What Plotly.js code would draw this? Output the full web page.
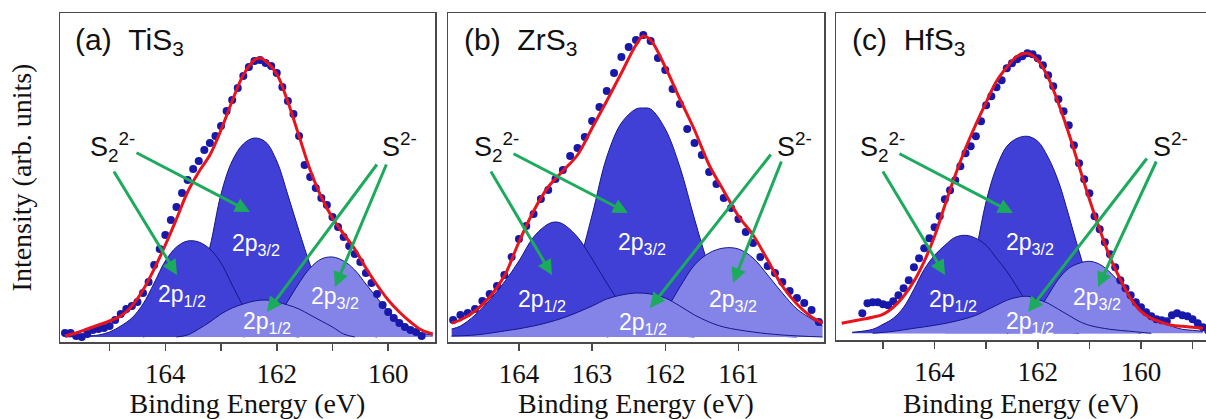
<!DOCTYPE html>
<html>
<head>
<meta charset="utf-8">
<script src="https://cdn.plot.ly/plotly-3.0.1.min.js"></script>
<style>html,body{margin:0;padding:0;background:#fff;}#chart{width:1206px;height:419px;}</style>
</head>
<body>
<div id="chart"></div>
<script>
// ---------- DATA (binding energy in eV, intensity in arb. units) ----------
// Panel (a) TiS3
const tiFitE = [165.8,165.6,165.4,165.2,165.0,164.8,164.6,164.4,164.2,164.0,163.8,163.6,163.4,163.2,163.0,162.8,162.6,162.4,162.3,162.2,162.0,161.8,161.6,161.4,161.2,161.0,160.8,160.6,160.4,160.2,160.0,159.8,159.6,159.4,159.2];
const tiFit  = [1,4,8,12,16,21,31,47,68,92,118,145,165,182,207,236,262,277,279,276,263,235,201,167,140,119,103,88,69,52,37,25,15,7,3];
const tiDotE = [165.8,165.7,165.6,165.5,165.4,165.3,165.2,165.1,165.0,164.9,164.8,164.7,164.6,164.5,164.4,164.3,164.2,164.1,164.0,163.9,163.8,163.7,163.6,163.5,163.4,163.3,163.2,163.1,163.0,162.9,162.8,162.7,162.6,162.5,162.4,162.3,162.2,162.1,162.0,161.9,161.8,161.7,161.6,161.5,161.4,161.3,161.2,161.1,161.0,160.9,160.8,160.7,160.6,160.5,160.4,160.3,160.2,160.1,160.0,159.9,159.8,159.7,159.6,159.5,159.4];
const tiDots = [4,4,1,0,3,7,8,9,11,17,23,28,31,35,44,55,72,88,102,117,130,144,157,168,176,187,194,201,211,226,237,249,261,270,276,277,274,271,264,250,236,223,201,172,160,149,139,132,120,110,100,91,83,75,64,54,43,32,25,19,14,10,7,5,1];
const tiS2_32E = [164.4,164.0,163.8,163.6,163.4,163.2,163.0,162.8,162.6,162.4,162.2,162.0,161.8,161.6,161.4,161.2,161.0,160.8,160.6,160.2];
const tiS2_32  = [0,6,12,25,52,90,143,176,193,199,195,176,142,106,72,44,24,12,5,0];
const tiS2_12E = [165.8,165.4,165.2,165.0,164.8,164.6,164.4,164.2,164.0,163.8,163.6,163.4,163.2,163.0,162.8,162.6,162.4,162.2,162.0,161.6];
const tiS2_12  = [0,1,2,5,11,19,33,54,76,90,96,95,88,74,52,31,16,7,3,0];
const tiS_32E = [162.6,162.4,162.2,162.0,161.8,161.6,161.4,161.2,161.0,160.8,160.6,160.4,160.2,160.0,159.8,159.6,159.4,159.2];
const tiS_32  = [0,3,8,20,36,54,69,78,80,76,67,53,39,26,16,9,4,2];
const tiS_12E = [163.8,163.6,163.4,163.2,163.0,162.8,162.6,162.4,162.2,162.0,161.8,161.6,161.4,161.2,161.0,160.8,160.6];
const tiS_12  = [0,2,8,15,23,29,33,36,37,35,32,28,22,16,10,3,0];

// Panel (b) ZrS3
const zrFitE = [164.92,164.8,164.6,164.4,164.2,164.0,163.8,163.6,163.4,163.2,163.0,162.8,162.6,162.4,162.3,162.2,162.0,161.8,161.6,161.4,161.2,161.0,160.8,160.6,160.4,160.2,160.0,159.85];
const zrFit  = [14,17,26,40,61,95,126,150,166,182,209,236,264,292,301,297,270,238,207,172,146,121,102,77,51,33,20,14];
const zrDotE = [164.9,164.8,164.7,164.6,164.5,164.4,164.3,164.2,164.1,164.0,163.9,163.8,163.7,163.6,163.5,163.4,163.3,163.2,163.1,163.0,162.9,162.8,162.7,162.6,162.5,162.4,162.3,162.2,162.1,162.0,161.9,161.8,161.7,161.6,161.5,161.4,161.3,161.2,161.1,161.0,160.9,160.8,160.7,160.6,160.5,160.4,160.3,160.2,160.1,160.0,159.9];
const zrDots = [17,22,24,28,36,43,51,62,80,98,111,123,138,147,158,167,181,189,200,216,230,246,264,280,290,297,302,296,279,267,248,233,208,194,182,165,153,139,129,118,105,94,80,71,64,55,46,39,34,27,15];
const zrS2_32E = [164.0,163.8,163.6,163.4,163.2,163.0,162.8,162.6,162.4,162.3,162.2,162.0,161.8,161.6,161.4,161.2,161.0,160.8,160.6,160.2];
const zrS2_32  = [2,7,18,40,70,122,180,214,228,229,228,208,170,118,70,36,16,6,2,0];
const zrS2_12E = [164.92,164.8,164.6,164.4,164.2,164.0,163.8,163.6,163.5,163.4,163.2,163.0,162.8,162.6,162.4,162.2,162.0,161.6];
const zrS2_12  = [8,11,22,37,55,76,100,113,115,113,100,78,54,32,17,8,3,0];
const zrS_32E = [162.8,162.6,162.4,162.2,162.0,161.8,161.6,161.4,161.2,161.0,160.8,160.6,160.4,160.2,160.0,159.85];
const zrS_32  = [0,3,7,15,27,50,72,84,89,88,79,62,44,28,18,11];
const zrS_12E = [164.92,164.6,164.2,163.8,163.4,163.0,162.8,162.6,162.4,162.2,162.0,161.8,161.6,161.4,161.2,160.8,160.4,159.85];
const zrS_12  = [1,2,6,11,19,31,38,42,44,43,39,31,22,15,10,5,2,0];
const zrTicks = [164, 163, 162, 161];

// Panel (c) HfS3
const hfFitE = [165.8,165.6,165.4,165.2,165.0,164.8,164.6,164.4,164.2,164.0,163.8,163.6,163.4,163.2,163.0,162.8,162.6,162.4,162.2,162.0,161.8,161.6,161.4,161.2,161.0,160.8,160.6,160.4,160.2,160.0,159.8,159.6,159.4,159.2,159.0,158.8];
const hfFit  = [10,12,14,16,19,26,37,52,72,97,128,158,185,209,231,252,266,277,280,273,256,230,200,167,134,104,76,54,35,22,15,11,8,7,6,5];
const hfDotE = [165.4,165.3,165.2,165.1,165.0,164.9,164.8,164.7,164.6,164.5,164.4,164.3,164.2,164.1,164.0,163.9,163.8,163.7,163.6,163.5,163.4,163.3,163.2,163.1,163.0,162.9,162.8,162.7,162.6,162.5,162.4,162.3,162.2,162.1,162.0,161.9,161.8,161.7,161.6,161.5,161.4,161.3,161.2,161.1,161.0,160.9,160.8,160.7,160.6,160.5,160.4,160.3,160.2,160.1,160.0,159.9,159.8,159.7,159.6,159.5,159.4,159.3,159.2,159.1,159.0,158.9,158.8,158.7];
const hfDots = [20,30,31,31,29,28,32,38,45,53,66,75,85,95,106,117,134,143,153,167,180,187,197,212,228,237,246,253,265,270,274,277,280,279,275,268,258,247,234,222,208,188,170,154,140,117,104,91,79,66,53,45,38,31,26,21,17,14,13,12,18,20,18,17,14,10,6,3];
const hfS2_32E = [163.8,163.6,163.4,163.2,163.0,162.8,162.6,162.4,162.2,162.0,161.8,161.6,161.4,161.2,161.0,160.8,160.6,160.4,160.0];
const hfS2_32  = [5,12,40,82,132,166,187,195,197,192,176,152,118,82,50,26,12,5,0];
const hfS2_12E = [165.6,165.2,165.0,164.8,164.6,164.4,164.2,164.0,163.8,163.6,163.4,163.2,163.0,162.8,162.6,162.4,162.2,162.0,161.8,161.6,161.2];
const hfS2_12  = [1,4,9,15,26,44,64,78,88,96,98,95,88,75,62,46,30,17,8,3,0];
const hfS_32E = [162.6,162.4,162.2,162.0,161.8,161.6,161.4,161.2,161.0,160.8,160.6,160.4,160.2,160.0,159.8,159.6,159.4,159.2,159.0,158.8];
const hfS_32  = [0,4,10,22,38,54,65,70,72,69,61,50,36,25,17,11,7,4,3,2];
const hfS_12E = [165.2,164.8,164.4,164.0,163.6,163.2,163.0,162.8,162.6,162.4,162.2,162.0,161.8,161.6,161.4,161.2,161.0,160.6,160.2,159.8];
const hfS_12  = [0,2,5,8,12,18,23,28,33,36,37,34,30,24,18,12,8,4,2,0];

const panelLabels = ['(a)\u00A0\u00A0TiS<sub>3</sub>', '(b)\u00A0\u00A0ZrS<sub>3</sub>', '(c)\u00A0\u00A0HfS<sub>3</sub>'];
const speciesLabels = ['S<sub>2</sub><sup>2-</sup>', 'S<sup>2-</sup>'];
const peakLabels = ['2p<sub>3/2</sub>', '2p<sub>1/2</sub>', '2p<sub>1/2</sub>', '2p<sub>3/2</sub>'];
const xTitle = 'Binding Energy (eV)';
const yTitle = 'Intensity (arb. units)';

// ---------- STYLE ----------
const W = 1206, H = 419;
const DARK = 'rgb(64,64,214)';
const LIGHT = 'rgb(132,132,232)';
const EDGE = 'rgb(22,22,140)';
const DOT = 'rgb(24,24,170)';
const RED = 'rgb(232,20,28)';
const GREEN = 'rgb(28,170,92)';
const SERIF = 'Liberation Serif';
const SANS = 'Liberation Sans';

const panels = [
  {ax:'', fitE:tiFitE, fit:tiFit, dotE:tiDotE, dots:tiDots,
   comps:[[tiS2_32E,tiS2_32,DARK],[tiS2_12E,tiS2_12,DARK],[tiS_32E,tiS_32,LIGHT],[tiS_12E,tiS_12,LIGHT]]},
  {ax:'2', fitE:zrFitE, fit:zrFit, dotE:zrDotE, dots:zrDots,
   comps:[[zrS2_32E,zrS2_32,DARK],[zrS2_12E,zrS2_12,DARK],[zrS_32E,zrS_32,LIGHT],[zrS_12E,zrS_12,LIGHT]]},
  {ax:'3', fitE:hfFitE, fit:hfFit, dotE:hfDotE, dots:hfDots,
   comps:[[hfS2_32E,hfS2_32,DARK],[hfS2_12E,hfS2_12,DARK],[hfS_32E,hfS_32,LIGHT],[hfS_12E,hfS_12,LIGHT]]}
];

const traces = [];
panels.forEach(p => {
  const xa = 'x' + p.ax, ya = 'y' + p.ax;
  p.comps.forEach(c => {
    traces.push({type:'scatter', mode:'lines', x:c[0], y:c[1], xaxis:xa, yaxis:ya,
      fill:'tozeroy', fillcolor:c[2], line:{color:EDGE, width:1, shape:'spline', smoothing:1},
      hoverinfo:'skip', showlegend:false});
  });
  traces.push({type:'scatter', mode:'markers', x:p.dotE, y:p.dots, xaxis:xa, yaxis:ya,
    marker:{color:DOT, size:8}, showlegend:false});
  traces.push({type:'scatter', mode:'lines', x:p.fitE, y:p.fit, xaxis:xa, yaxis:ya,
    line:{color:RED, width:3, shape:'spline', smoothing:1}, showlegend:false});
});

// pixel -> paper helpers (margins are zero)
const px = v => v / W;
const py = v => 1 - v / H;

function xaxisDef(l, r, range, dtick, minor) {
  const a = {domain:[px(l), px(r)], range:range, showgrid:false, zeroline:false,
    showline:true, mirror:true, linecolor:'#4a4a4a', linewidth:1.5,
    ticks:'outside', ticklen:7, tickwidth:1.5, tickcolor:'#4a4a4a', dtick:dtick, tick0:160,
    tickfont:{family:SERIF, size:27, color:'#111'},
    title:{text:xTitle, font:{family:SERIF, size:28, color:'#111'}, standoff:8}};
  if (minor) a.minor = {dtick:1, ticks:'outside', ticklen:7, tickwidth:1.5, tickcolor:'#4a4a4a'};
  return a;
}
function yaxisDef(top, bottom, range, mirror, title) {
  const a = {domain:[py(bottom), py(top)], range:range, showgrid:false, zeroline:false,
    showline:true, mirror:mirror, linecolor:'#4a4a4a', linewidth:1.5,
    ticks:'', showticklabels:false};
  if (title) a.title = {text:yTitle, font:{family:SERIF, size:28, color:'#111'}, standoff:18};
  return a;
}

const layout = {
  width:W, height:H, margin:{l:0, r:0, t:0, b:0},
  paper_bgcolor:'#fff', plot_bgcolor:'#fff', showlegend:false,
  xaxis: Object.assign(xaxisDef(60, 435, [165.89, 159.16], 2, true), {anchor:'y'}),
  yaxis: Object.assign(yaxisDef(13, 342, [-5, 324], true, true), {anchor:'x'}),
  xaxis2: Object.assign(xaxisDef(448, 824, [164.97, 159.83], 1, false), {anchor:'y2', tickmode:'array', tickvals:zrTicks}),
  yaxis2: Object.assign(yaxisDef(13, 342, [-5, 324], true, false), {anchor:'x2'}),
  xaxis3: Object.assign(xaxisDef(836, 1206, [165.91, 158.74], 2, true), {anchor:'y3'}),
  yaxis3: Object.assign(yaxisDef(13, 340, [-6.7, 320.3], false, false), {anchor:'x3'}),
  annotations: []
};

// layout positions (pixels) for text and arrows
const titlePos = [[73, 41], [462, 41], [850, 41]];
const s22Pos = [[88, 147], [472, 147], [858, 147]];
const s2Pos = [[380, 145], [775, 145], [1151, 145]];
const peakPos = [
  [[256,244],[182,295],[267,322],[335,297]],
  [[642,243],[542,300],[643,323],[733,300]],
  [[1030,243],[953,300],[1030,322],[1097,298]]
];
const arrowPos = [
  [[135,152,250,212],[113,170,177,275],[378,163,267,312],[387,163,335,287]],
  [[512,153,628,213],[490,170,552,275],[772,153,650,308],[782,160,733,283]],
  [[898,153,1013,213],[882,170,945,275],[1148,157,1028,312],[1157,160,1098,287]]
];

for (let i = 0; i < 3; i++) {
  layout.annotations.push({xref:'paper', yref:'paper', x:px(titlePos[i][0]), y:py(titlePos[i][1]),
    xanchor:'left', yanchor:'middle', showarrow:false, text:panelLabels[i],
    font:{family:SANS, size:30, color:'#111'}});
  layout.annotations.push({xref:'paper', yref:'paper', x:px(s22Pos[i][0]), y:py(s22Pos[i][1]),
    xanchor:'left', yanchor:'middle', showarrow:false, text:speciesLabels[0],
    font:{family:SANS, size:27, color:'#111'}});
  layout.annotations.push({xref:'paper', yref:'paper', x:px(s2Pos[i][0]), y:py(s2Pos[i][1]),
    xanchor:'left', yanchor:'middle', showarrow:false, text:speciesLabels[1],
    font:{family:SANS, size:27, color:'#111'}});
  peakPos[i].forEach((p, k) => {
    layout.annotations.push({xref:'paper', yref:'paper', x:px(p[0]), y:py(p[1]),
      xanchor:'center', yanchor:'middle', showarrow:false, text:peakLabels[k],
      font:{family:SANS, size:23, color:'#fff'}});
  });
  arrowPos[i].forEach(a => {
    layout.annotations.push({xref:'paper', yref:'paper', x:px(a[2]), y:py(a[3]),
      ax:a[0]-a[2], ay:a[1]-a[3], axref:'pixel', ayref:'pixel', text:'',
      showarrow:true, arrowhead:2, arrowsize:1, arrowwidth:3, arrowcolor:GREEN, standoff:0});
  });
}

Plotly.newPlot('chart', traces, layout, {staticPlot:true, displayModeBar:false});
</script>
</body>
</html>
